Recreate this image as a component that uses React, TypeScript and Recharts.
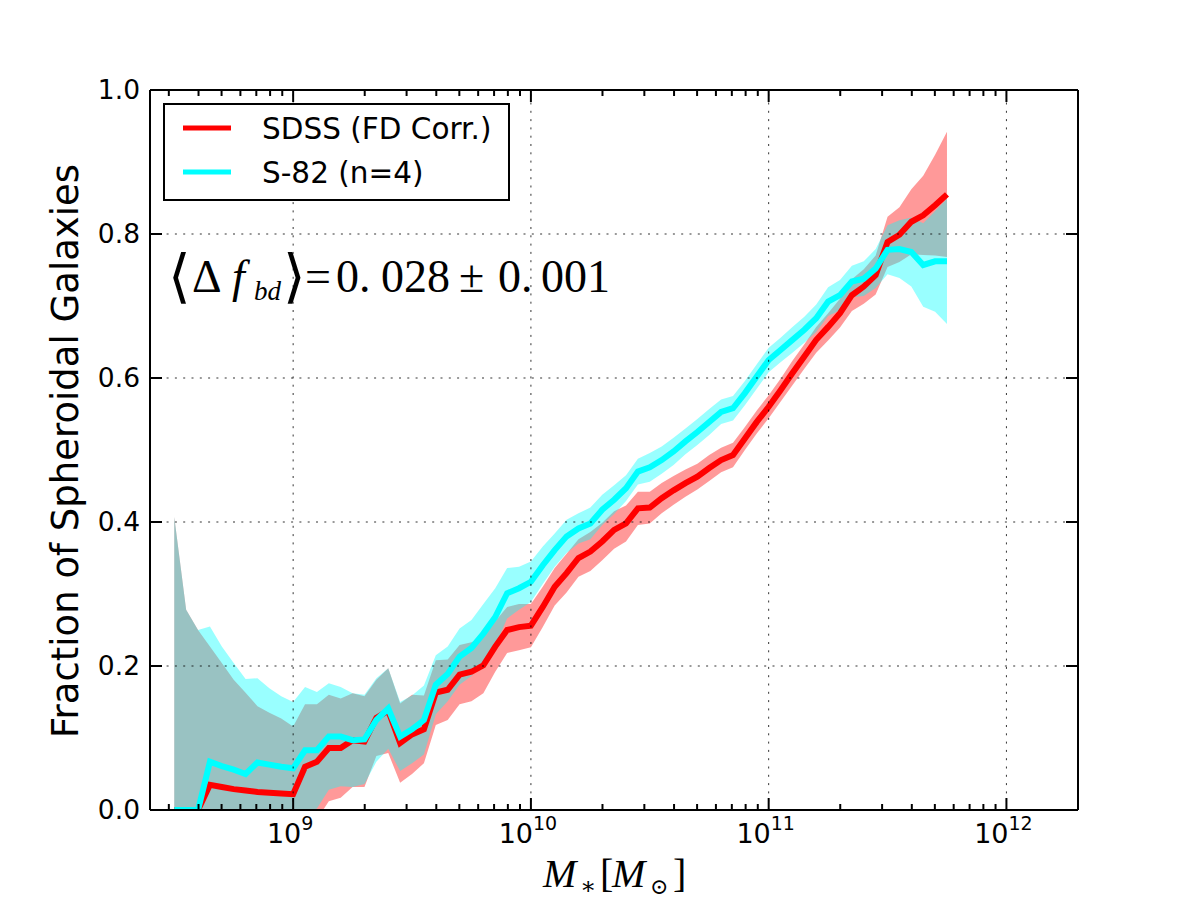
import React from 'react';
import { ComposedChart, Area, Line, XAxis, YAxis, ReferenceLine } from 'recharts';

// log10 of stellar mass, one bin every 0.05 dex
const logMass = [
  8.5, 8.55, 8.6, 8.65, 8.7, 8.75, 8.8, 8.85, 8.9, 8.95,
  9.0, 9.05, 9.1, 9.15, 9.2, 9.25, 9.3, 9.35, 9.4, 9.45,
  9.5, 9.55, 9.6, 9.65, 9.7, 9.75, 9.8, 9.85, 9.9, 9.95,
  10.0, 10.05, 10.1, 10.15, 10.2, 10.25, 10.3, 10.35, 10.4, 10.45,
  10.5, 10.55, 10.6, 10.65, 10.7, 10.75, 10.8, 10.85, 10.9, 10.95,
  11.0, 11.05, 11.1, 11.15, 11.2, 11.25, 11.3, 11.35, 11.4, 11.45,
  11.5, 11.55, 11.6, 11.65, 11.7, 11.75,
];

// SDSS (FD corrected) spheroid fraction and 1-sigma error
const sdssFrac = [
  0, 0, 0, 0.035, 0.032, 0.029, 0.027, 0.025, 0.024, 0.023,
  0.022, 0.06, 0.067, 0.086, 0.086, 0.097, 0.095, 0.128, 0.138, 0.093,
  0.105, 0.112, 0.163, 0.167, 0.188, 0.192, 0.201, 0.227, 0.25, 0.254,
  0.256, 0.282, 0.31, 0.329, 0.35, 0.359, 0.373, 0.389, 0.398, 0.419,
  0.42, 0.433, 0.444, 0.454, 0.463, 0.475, 0.486, 0.493, 0.516, 0.539,
  0.56, 0.583, 0.607, 0.63, 0.653, 0.671, 0.69, 0.715, 0.727, 0.743,
  0.789, 0.799, 0.817, 0.826, 0.84, 0.855,
];
const sdssErr = [
  0.407, 0.278, 0.25, 0.192, 0.172, 0.152, 0.136, 0.119, 0.111, 0.104,
  0.094, 0.087, 0.08, 0.074, 0.069, 0.065, 0.063, 0.053, 0.059, 0.055,
  0.055, 0.047, 0.045, 0.042, 0.041, 0.041, 0.039, 0.035, 0.032, 0.032,
  0.03, 0.028, 0.026, 0.027, 0.026, 0.027, 0.026, 0.026, 0.025, 0.023,
  0.022, 0.021, 0.02, 0.019, 0.018, 0.018, 0.017, 0.017, 0.016, 0.016,
  0.016, 0.016, 0.017, 0.017, 0.018, 0.019, 0.02, 0.022, 0.024, 0.027,
  0.035, 0.038, 0.045, 0.055, 0.07, 0.087,
];

// Stripe-82 (n=4) spheroid fraction and 1-sigma error
const s82Frac = [
  0, 0, 0, 0.067, 0.061, 0.056, 0.05, 0.066, 0.063, 0.06,
  0.058, 0.083, 0.083, 0.102, 0.102, 0.097, 0.098, 0.125, 0.141, 0.102,
  0.112, 0.125, 0.174, 0.189, 0.213, 0.225, 0.245, 0.268, 0.301, 0.308,
  0.317, 0.34, 0.361, 0.38, 0.391, 0.398, 0.417, 0.431, 0.447, 0.47,
  0.476, 0.486, 0.498, 0.512, 0.525, 0.539, 0.553, 0.558, 0.579, 0.602,
  0.625, 0.639, 0.653, 0.667, 0.683, 0.706, 0.715, 0.734, 0.738, 0.752,
  0.778, 0.779, 0.775, 0.757, 0.762, 0.762,
];
const s82Err = [
  0.407, 0.278, 0.25, 0.188, 0.166, 0.148, 0.132, 0.117, 0.106, 0.098,
  0.092, 0.088, 0.081, 0.074, 0.069, 0.065, 0.062, 0.058, 0.056, 0.048,
  0.047, 0.048, 0.041, 0.038, 0.039, 0.039, 0.041, 0.04, 0.035, 0.03,
  0.028, 0.026, 0.023, 0.023, 0.021, 0.022, 0.021, 0.02, 0.018, 0.018,
  0.02, 0.019, 0.019, 0.018, 0.018, 0.018, 0.017, 0.017, 0.017, 0.017,
  0.017, 0.017, 0.018, 0.018, 0.019, 0.02, 0.021, 0.022, 0.024, 0.027,
  0.034, 0.04, 0.048, 0.058, 0.07, 0.087,
];

const seriesNames = ['SDSS (FD Corr.)', 'S-82 (n=4)'];
const seriesColors = ['#ff0000', '#00ffff'];

const yTicks = [0, 0.2, 0.4, 0.6, 0.8, 1.0];
const yTickLabels = ['0.0', '0.2', '0.4', '0.6', '0.8', '1.0'];
const xDecades = [9, 10, 11, 12];

const X_MIN = Math.log10(2.5e8);
const X_MAX = Math.log10(2e12);

// major + minor tick positions of the log axis
const xTicks: number[] = [];
for (let d = 8; d <= 12; d++) {
  for (let k = 1; k <= 9; k++) {
    const v = d + Math.log10(k);
    if (v >= X_MIN && v <= X_MAX) xTicks.push(v);
  }
}

const rows = logMass.map((m, i) => ({
  m,
  sdss: sdssFrac[i],
  sdssBand: [sdssFrac[i] - sdssErr[i], sdssFrac[i] + sdssErr[i]],
  s82: s82Frac[i],
  s82Band: [s82Frac[i] - s82Err[i], s82Frac[i] + s82Err[i]],
}));

const W = 1200;
const H = 900;
// plot box: x 150..1078, y 90..810 (axis boxes eat part of each margin)
const M = { top: 80, right: 112, bottom: 50, left: 100 };
const MAJOR = 12;
const MINOR = 6;
const TICK_FONT = "'DejaVu Sans', sans-serif";
const MATH_FONT = "'Liberation Serif', 'DejaVu Serif', serif";

const BottomTick = (props: any) => {
  const { x, y, payload } = props;
  const major = Number.isInteger(payload.value);
  return (
    <g>
      <line x1={x} x2={x} y1={y} y2={y - (major ? MAJOR : MINOR)} stroke="#000" strokeWidth={2} />
      {major && (
        <text x={x - 3} y={y + 33} textAnchor="middle" fontFamily={TICK_FONT} fontSize={27} fill="#000">
          10<tspan fontSize={19} dy={-13}>{payload.value}</tspan>
        </text>
      )}
    </g>
  );
};

const TopTick = (props: any) => {
  const { x, y, payload } = props;
  const major = Number.isInteger(payload.value);
  return <line x1={x} x2={x} y1={y} y2={y + (major ? MAJOR : MINOR)} stroke="#000" strokeWidth={2} />;
};

const LeftTick = (props: any) => {
  const { x, y, index } = props;
  return (
    <g>
      <line x1={x} x2={x + MAJOR} y1={y} y2={y} stroke="#000" strokeWidth={2} />
      <text x={x - 10} y={y + 9} textAnchor="end" fontFamily={TICK_FONT} fontSize={26.5} fill="#000">
        {yTickLabels[index]}
      </text>
    </g>
  );
};

const RightTick = (props: any) => {
  const { x, y } = props;
  return <line x1={x} x2={x - MAJOR} y1={y} y2={y} stroke="#000" strokeWidth={2} />;
};

const gridStyle = { stroke: '#000', strokeWidth: 1, strokeDasharray: '2 6.3', strokeOpacity: 0.8 };
const frame = { stroke: '#000', strokeWidth: 2 };

export default function App() {
  return (
    <div style={{ position: 'absolute', left: 0, top: 0, width: W, height: H, background: '#fff' }}>
      <ComposedChart width={W} height={H} data={rows} margin={M}>
        <XAxis
          xAxisId="bottom"
          dataKey="m"
          type="number"
          domain={[X_MIN, X_MAX]}
          allowDataOverflow
          ticks={xTicks}
          interval={0}
          height={40}
          tickSize={0}
          tickMargin={0}
          tickLine={false}
          tick={<BottomTick />}
          axisLine={frame}
        />
        <XAxis
          xAxisId="top"
          orientation="top"
          dataKey="m"
          type="number"
          domain={[X_MIN, X_MAX]}
          allowDataOverflow
          ticks={xTicks}
          interval={0}
          height={10}
          tickSize={0}
          tickMargin={0}
          tickLine={false}
          tick={<TopTick />}
          axisLine={frame}
        />
        <YAxis
          yAxisId="left"
          type="number"
          domain={[0, 1]}
          allowDataOverflow
          ticks={yTicks}
          interval={0}
          width={50}
          tickSize={0}
          tickMargin={0}
          tickLine={false}
          tick={<LeftTick />}
          axisLine={frame}
        />
        <YAxis
          yAxisId="right"
          orientation="right"
          type="number"
          domain={[0, 1]}
          allowDataOverflow
          ticks={yTicks}
          interval={0}
          width={10}
          tickSize={0}
          tickMargin={0}
          tickLine={false}
          tick={<RightTick />}
          axisLine={frame}
        />

        <Area
          xAxisId="bottom"
          yAxisId="left"
          type="linear"
          dataKey="sdssBand"
          stroke="none"
          fill={seriesColors[0]}
          fillOpacity={0.4}
          isAnimationActive={false}
          activeDot={false}
        />
        <Area
          xAxisId="bottom"
          yAxisId="left"
          type="linear"
          dataKey="s82Band"
          stroke="none"
          fill={seriesColors[1]}
          fillOpacity={0.4}
          isAnimationActive={false}
          activeDot={false}
        />
        <Line
          xAxisId="bottom"
          yAxisId="left"
          type="linear"
          dataKey="sdss"
          stroke={seriesColors[0]}
          strokeWidth={6}
          strokeLinejoin="miter"
          dot={false}
          activeDot={false}
          isAnimationActive={false}
        />
        <Line
          xAxisId="bottom"
          yAxisId="left"
          type="linear"
          dataKey="s82"
          stroke={seriesColors[1]}
          strokeWidth={6}
          strokeLinejoin="miter"
          dot={false}
          activeDot={false}
          isAnimationActive={false}
        />

        {xDecades.map((d) => (
          <ReferenceLine key={`gx${d}`} xAxisId="bottom" yAxisId="left" x={d} {...gridStyle} />
        ))}
        {yTicks.slice(1, -1).map((t) => (
          <ReferenceLine key={`gy${t}`} xAxisId="bottom" yAxisId="left" y={t} {...gridStyle} />
        ))}
      </ComposedChart>

      <svg
        width={W}
        height={H}
        style={{ position: 'absolute', left: 0, top: 0, pointerEvents: 'none' }}
      >
        {/* legend */}
        <rect x={164} y={104} width={345} height={96} fill="#fff" stroke="#000" strokeWidth={2} />
        {seriesNames.map((name, i) => (
          <g key={name}>
            <line x1={183} x2={231} y1={128 + i * 44} y2={128 + i * 44} stroke={seriesColors[i]} strokeWidth={5} />
            <text x={262} y={139 + i * 44} fontFamily={TICK_FONT} fontSize={29.5} fill="#000">
              {name}
            </text>
          </g>
        ))}

        {/* mean offset between the two samples */}
        <text y={292} fontFamily={MATH_FONT} fontSize={46} fill="#000">
          <tspan x={168} fontSize={58} dy={4}>⟨</tspan>
          <tspan x={192} dy={-4}>Δ</tspan>
          <tspan x={232} fontStyle="italic">f</tspan>
          <tspan x={254} dy={8} fontSize={27} fontStyle="italic">bd</tspan>
          <tspan x={283} dy={-4} fontSize={58}>⟩</tspan>
          <tspan x={305} dy={-4}>=</tspan>
          <tspan x={336}>0.</tspan>
          <tspan x={381}>028</tspan>
          <tspan x={459}>±</tspan>
          <tspan x={498}>0.</tspan>
          <tspan x={541}>001</tspan>
        </text>

        {/* axis titles */}
        <text
          transform="translate(78,451) rotate(-90)"
          textAnchor="middle"
          fontFamily={TICK_FONT}
          fontSize={37}
          fill="#000"
        >
          Fraction of Spheroidal Galaxies
        </text>
        <text y={887} fontFamily={MATH_FONT} fontSize={40} fill="#000">
          <tspan x={543} fontStyle="italic">M</tspan>
          <tspan x={580} dy={7} fontSize={24}>∗</tspan>
          <tspan x={600} dy={-7}>[</tspan>
          <tspan x={612} fontStyle="italic">M</tspan>
          <tspan x={650} dy={7} fontSize={22}>⊙</tspan>
          <tspan x={673} dy={-7}>]</tspan>
        </text>
      </svg>
    </div>
  );
}
